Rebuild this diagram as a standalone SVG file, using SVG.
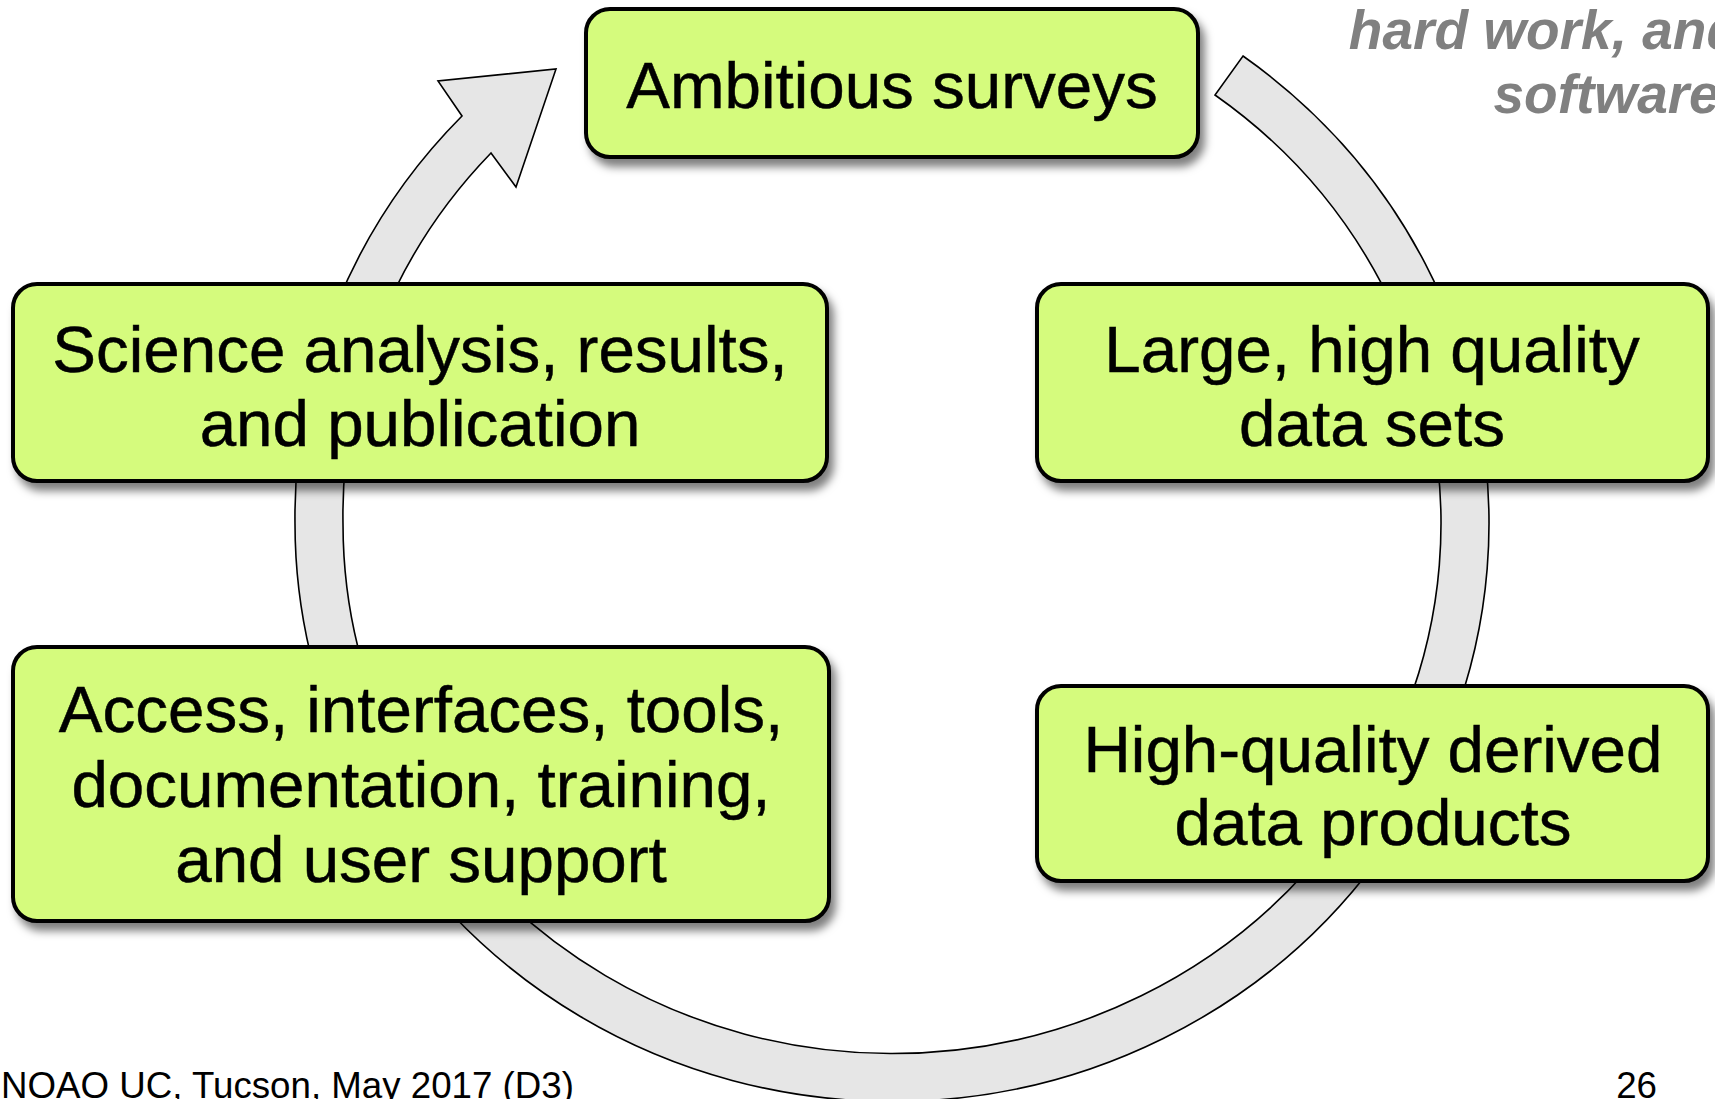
<svg xmlns="http://www.w3.org/2000/svg" width="1715" height="1099" viewBox="0 0 1715 1099">
  <defs>
    <filter id="shadow" x="-10%" y="-10%" width="125%" height="130%">
      <feDropShadow dx="5" dy="8" stdDeviation="4" flood-color="#000" flood-opacity="0.5"/>
    </filter>
  </defs>
  <style>
    .box { fill: #d5fb7d; stroke: #000; stroke-width: 4; filter: url(#shadow); }
    .label { font-family: "Liberation Sans", Arial, Helvetica, sans-serif; font-size: 65.5px; fill: #000; stroke: #000; stroke-width: 0.5; text-anchor: middle; }
    .band { fill: #e6e6e6; stroke: #000; stroke-width: 1.6; stroke-linejoin: miter; }
    .note { font-family: "Liberation Sans", Arial, Helvetica, sans-serif; font-size: 55px; font-weight: bold; font-style: italic; fill: #808080; text-anchor: end; }
    .footer { font-family: "Liberation Sans", Arial, Helvetica, sans-serif; font-size: 36.7px; fill: #000; }
  </style>

  <rect width="1715" height="1099" fill="#fff"/>

  <!-- cycle arrow: elliptical band running clockwise, head at upper left -->
  <g id="connectors">
    <path class="band" d="M 1243 56 A 597 578 0 1 1 295 524 A 597 578 0 0 1 462 116 L 438 81 L 556 69 L 516 187 L 491 153 A 549 530 0 0 0 343 524 A 549 530 0 1 0 1215 95 Z"/>
  </g>

  <g id="node-ambitious">
    <rect class="box" x="586" y="9" width="612" height="148" rx="24"/>
    <text class="label" x="892" y="108">Ambitious surveys</text>
  </g>

  <g id="node-science">
    <rect class="box" x="13" y="284" width="814" height="197" rx="24"/>
    <text class="label" x="420" y="372">Science analysis, results,</text>
    <text class="label" x="420" y="446">and publication</text>
  </g>

  <g id="node-datasets">
    <rect class="box" x="1037" y="284" width="671" height="197" rx="24"/>
    <text class="label" x="1372" y="372">Large, high quality</text>
    <text class="label" x="1372" y="446">data sets</text>
  </g>

  <g id="node-access">
    <rect class="box" x="13" y="647" width="816" height="274" rx="24"/>
    <text class="label" x="421" y="732">Access, interfaces, tools,</text>
    <text class="label" x="421" y="807">documentation, training,</text>
    <text class="label" x="421" y="882">and user support</text>
  </g>

  <g id="node-derived">
    <rect class="box" x="1037" y="686" width="671" height="195" rx="24"/>
    <text class="label" x="1373" y="772">High-quality derived</text>
    <text class="label" x="1373" y="845">data products</text>
  </g>

  <g id="note">
    <text class="note" x="1740" y="49">hard work, and</text>
    <text class="note" x="1735" y="113">software.</text>
  </g>

  <g id="footer">
    <text class="footer" x="1" y="1098">NOAO UC, Tucson, May 2017 (D3)</text>
    <text class="footer" x="1657" y="1098" text-anchor="end">26</text>
  </g>
</svg>
